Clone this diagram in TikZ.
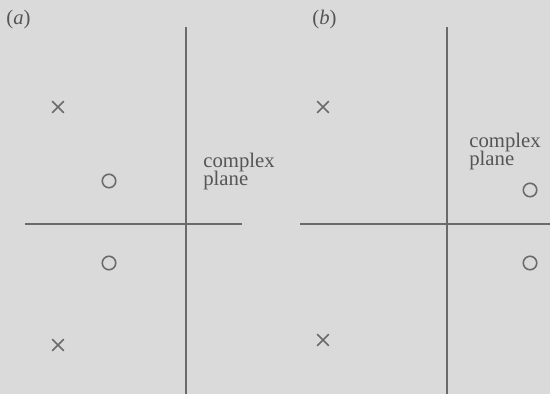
\documentclass[tikz,border=0pt]{standalone}
\usepackage{fontspec}
\setmainfont{Liberation Serif}
\usetikzlibrary{shapes.misc}
\definecolor{paper}{HTML}{DADADA}
\definecolor{ink}{HTML}{6A6A6A}
\definecolor{lblink}{HTML}{555555}

\begin{document}
\begin{tikzpicture}[x=0.02cm, y=-0.02cm,
  axis/.style={draw=ink, line width=0.9pt},
  pole/.style={cross out, draw=ink, line width=0.9pt, minimum size=0.2cm, inner sep=0pt},
  zero/.style={circle, draw=ink, line width=0.9pt, minimum size=0.27cm, inner sep=0pt},
  lbl/.style={text=lblink, font={\fontsize{11.8}{10.8}\selectfont\lineskiplimit=-20pt}, align=left, inner sep=0pt}
]
  \fill[paper] (0,0) rectangle (550,394);
  \useasboundingbox (0,0) rectangle (550,394);

  % panel (a)
  \node[lbl, anchor=base west] (taga) at (6,25) {(\textit{a})};
  \coordinate (a-top) at (186,27);
  \coordinate (a-bot) at (186,394);
  \coordinate (a-left) at (25,224);
  \coordinate (a-right) at (242,224);
  \draw[axis] (a-top) -- (a-bot);
  \draw[axis] (a-left) -- (a-right);
  \node[pole] (a-p1) at (58,107) {};
  \node[pole] (a-p2) at (58,345) {};
  \node[zero] (a-z1) at (109,181) {};
  \node[zero] (a-z2) at (109,263) {};
  \node[lbl, anchor=base west] (a-plane) at (203,186) {complex\\plane};

  % panel (b)
  \node[lbl, anchor=base west] (tagb) at (312,25) {(\textit{b})};
  \coordinate (b-top) at (447,27);
  \coordinate (b-bot) at (447,394);
  \coordinate (b-left) at (300,224);
  \coordinate (b-right) at (550,224);
  \draw[axis] (b-top) -- (b-bot);
  \draw[axis] (b-left) -- (b-right);
  \node[pole] (b-p1) at (323,107) {};
  \node[pole] (b-p2) at (323,340) {};
  \node[zero] (b-z1) at (530,190) {};
  \node[zero] (b-z2) at (530,263) {};
  \node[lbl, anchor=base west] (b-plane) at (469,166) {complex\\plane};
\end{tikzpicture}
\end{document}
